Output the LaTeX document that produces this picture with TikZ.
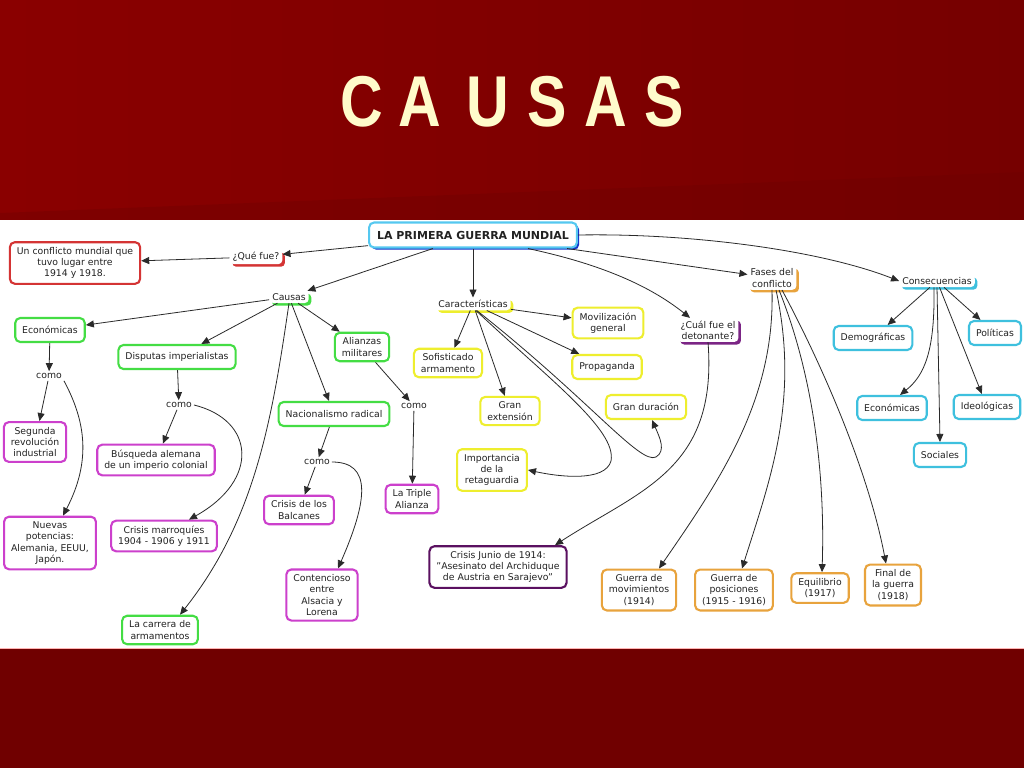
\documentclass[tikz,border=0pt]{standalone}
\usepackage{fontspec}
\usepackage{graphicx}
\setmainfont{DejaVu Sans}
\newfontfamily\titlefont{Liberation Sans}
\usetikzlibrary{arrows.meta,shadows}
\definecolor{bgA}{HTML}{8A0000}
\definecolor{bgB}{HTML}{760000}
\definecolor{bgC}{HTML}{6C0000}
\definecolor{bgD}{HTML}{700000}
\definecolor{cream}{HTML}{FFFBCB}
\definecolor{txtc}{HTML}{222222}
\definecolor{edgec}{HTML}{2A2A2A}
\definecolor{redb}{HTML}{D43434}
\definecolor{greenb}{HTML}{44DD44}
\definecolor{magb}{HTML}{CC40CC}
\definecolor{yelb}{HTML}{EEEE2E}
\definecolor{orab}{HTML}{E8A33D}
\definecolor{cyab}{HTML}{3EC0DE}
\definecolor{purb}{HTML}{5A1060}
\definecolor{purs}{HTML}{7B2585}
\definecolor{mainb}{HTML}{55C8F0}
\definecolor{mainsh}{HTML}{1535C8}
\newcommand\cmtxt{\fontsize{9.3}{11.3}\selectfont}
\begin{document}
\begin{tikzpicture}[x=1pt,y=-1pt,
  box/.style={draw=#1, line width=2.1pt, rounded corners=5pt, fill=white,
    inner xsep=7pt, inner ysep=5pt, minimum height=24pt, align=center,
    font=\cmtxt, text=txtc},
  sh/.style={fill=white, rounded corners=4pt, inner xsep=3pt, inner ysep=2.5pt,
    align=center, font=\cmtxt, text=txtc,
    drop shadow={shadow xshift=2.6pt, shadow yshift=-2.6pt, fill=#1, opacity=1}},
  lp/.style={inner sep=2pt, font=\cmtxt, text=txtc, fill=white},
  arr/.style={draw=edgec, line width=0.8pt, -{Triangle[length=8pt,width=7pt]}},
  ttl/.style={anchor=base, inner sep=0pt}
]
\useasboundingbox (0,0) rectangle (1024,768);
% background
\shade[left color=bgA, right color=bgB] (0,0) rectangle (1024,220);
\fill[bgC, opacity=0.35] (0,213) -- (1024,172) -- (1024,220) -- (0,220) -- cycle;
\fill[white] (0,220) rectangle (1024,648);
\fill[bgD] (0,648) rectangle (1024,768);
\draw[red!30, line width=1pt] (0,648.5) -- (1024,648.5);
% title
\foreach \x/\l [count=\i] in {362/C,420/A,488/U,547/S,606/A,664/S} {
  \node[ttl, text=cream] (tl\i) at (\x,126) {\titlefont\bfseries\fontsize{72}{72}\selectfont\scalebox{0.82}[1]{\l}};
}
% nodes
\node[box=mainb, font=\fontsize{11}{13}\selectfont\bfseries, inner xsep=8pt, minimum height=25pt,
  drop shadow={shadow xshift=2.2pt, shadow yshift=-2.2pt, fill=mainsh, opacity=1}] (main) at (473,235) {LA PRIMERA GUERRA MUNDIAL};
\node[sh=redb] (que) at (256,257) {¿Qué fue?};
\node[box=redb] (conf) at (75,263) {Un conflicto mundial que\\tuvo lugar entre\\1914 y 1918.};
\node[sh=greenb] (causas) at (289,297) {Causas};
\node[box=greenb] (econ) at (50,330) {Económicas};
\node[lp] (como1) at (49,376) {como};
\node[box=magb] (segunda) at (35,442) {Segunda\\revolución\\industrial};
\node[box=magb] (nuevas) at (50,543) {Nuevas\\potencias:\\Alemania, EEUU,\\Japón.};
\node[box=greenb] (disp) at (177,357) {Disputas imperialistas};
\node[lp] (como2) at (179,405) {como};
\node[box=magb] (busq) at (156,460) {Búsqueda alemana\\de un imperio colonial};
\node[box=magb] (marr) at (164,536) {Crisis marroquíes\\1904 - 1906 y 1911};
\node[box=greenb] (carrera) at (160,630) {La carrera de\\armamentos};
\node[box=greenb] (alian) at (362,347) {Alianzas\\militares};
\node[lp] (como3) at (414,406) {como};
\node[box=magb] (triple) at (412,499) {La Triple\\Alianza};
\node[box=greenb] (nacion) at (334,414) {Nacionalismo radical};
\node[lp] (como4) at (317,462) {como};
\node[box=magb] (balc) at (299,510) {Crisis de los\\Balcanes};
\node[box=magb] (cont) at (322,595) {Contencioso\\entre\\Alsacia y\\Lorena};
\node[sh=yelb] (caract) at (473,304) {Características};
\node[box=yelb] (sofist) at (448,363) {Sofisticado\\armamento};
\node[box=yelb] (movil) at (608,323) {Movilización\\general};
\node[box=yelb] (propag) at (607,367) {Propaganda};
\node[box=yelb] (ext) at (510,411) {Gran\\extensión};
\node[box=yelb] (dur) at (646,407) {Gran duración};
\node[box=yelb] (impor) at (492,470) {Importancia\\de la\\retaguardia};
\node[sh=purs] (cual) at (708,330) {¿Cuál fue el\\detonante?};
\node[box=purb] (crisisj) at (498,567) {Crisis Junio de 1914:\\"Asesinato del Archiduque\\de Austria en Sarajevo"};
\node[sh=orab] (fases) at (772,278) {Fases del\\conflicto};
\node[box=orab] (gmov) at (639,590) {Guerra de\\movimientos\\(1914)};
\node[box=orab] (gpos) at (734,590) {Guerra de\\posiciones\\(1915 - 1916)};
\node[box=orab] (equil) at (820,588) {Equilibrio\\(1917)};
\node[box=orab] (final) at (893,585) {Final de\\la guerra\\(1918)};
\node[sh=cyab] (consec) at (937,281) {Consecuencias};
\node[box=cyab] (demog) at (873,338) {Demográficas};
\node[box=cyab] (polit) at (995,333) {Políticas};
\node[box=cyab] (econ2) at (892,408) {Económicas};
\node[box=cyab] (ideol) at (987,407) {Ideológicas};
\node[box=cyab] (soc) at (940,455) {Sociales};
% connectors
\draw[arr] (main) -- (que);
\draw[arr] (que) -- (conf);
\draw[arr] (main) -- (causas);
\draw[arr] (main) -- (caract);
\draw[arr] ([xshift=55pt]main.south) .. controls (610,266) and (655,290) .. ([xshift=-18pt]cual.north);
\draw[arr] (main) -- (fases);
\draw[arr] (main.east) .. controls (690,233) and (820,250) .. (consec.west);
\draw[arr] (causas) -- (econ);
\draw[arr] (causas) -- (disp);
\draw[arr] (causas) -- (alian);
\draw[arr] (causas) -- (nacion);
\draw[arr] (causas.south) .. controls (272,420) and (255,520) .. ([xshift=20pt]carrera.north);
\draw[arr] (econ) -- (como1);
\draw[arr] (como1) -- (segunda);
\draw[arr] (como1.south east) .. controls (85,420) and (92,460) .. ([xshift=13pt]nuevas.north);
\draw[arr] (disp) -- (como2);
\draw[arr] (como2) -- (busq);
\draw[arr] (como2.east) .. controls (255,420) and (260,480) .. ([xshift=25pt]marr.north);
\draw[arr] (alian) -- (como3);
\draw[arr] (como3) -- (triple);
\draw[arr] (nacion) -- (como4);
\draw[arr] (como4) -- (balc);
\draw[arr] (como4.east) .. controls (372,462) and (368,500) .. ([xshift=16pt]cont.north);
\draw[arr] (caract) -- (sofist);
\draw[arr] (caract) -- (ext);
\draw[arr] (caract) -- (movil);
\draw[arr] (caract) -- (propag);
\draw[arr] (caract.-60) .. controls (590,400) and (640,465) .. (656,457) .. controls (666,451) and (660,438) .. ([xshift=6pt]dur.south);
\draw[arr] (caract.-66) .. controls (550,380) and (617,430) .. (611,461) .. controls (605,482) and (560,477) .. (impor.east);
\draw[arr] (cual.south) .. controls (718,470) and (640,490) .. ([xshift=57pt]crisisj.north);
\draw[arr] (fases.south) .. controls (775,400) and (720,480) .. ([xshift=20pt]gmov.north);
\draw[arr] ([xshift=4pt]fases.south) .. controls (800,400) and (770,480) .. ([xshift=8pt]gpos.north);
\draw[arr] ([xshift=7pt]fases.south) .. controls (815,380) and (825,480) .. ([xshift=2pt]equil.north);
\draw[arr] ([xshift=10pt]fases.south) .. controls (830,380) and (870,480) .. ([xshift=-7pt]final.north);
\draw[arr] (consec) -- (demog);
\draw[arr] (consec) -- (polit);
\draw[arr] ([xshift=-3pt]consec.south) .. controls (935,350) and (925,375) .. ([xshift=8pt]econ2.north);
\draw[arr] (consec.south) -- (soc.north);
\draw[arr] (consec) -- (ideol);
\end{tikzpicture}
\end{document}
